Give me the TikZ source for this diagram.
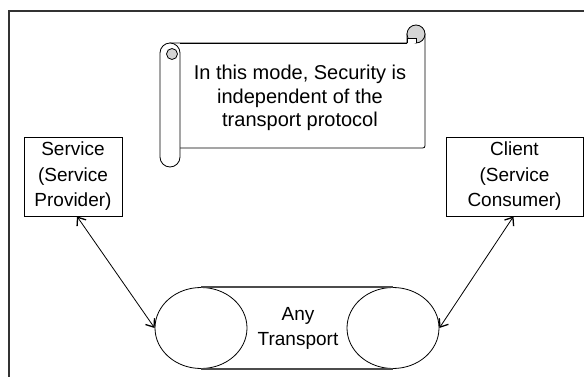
\documentclass[tikz,border=0pt]{standalone}
\usepackage{fontspec}
\setmainfont{Liberation Sans}
\usetikzlibrary{shapes.geometric,arrows.meta}
\definecolor{curlgray}{HTML}{D4D4D4}
\definecolor{framegray}{HTML}{333333}
\begin{document}
\begin{tikzpicture}[x=1pt,y=-1pt,
    box/.style={draw, line width=0.8pt, align=center, inner sep=0pt,
      font=\fontsize{19}{25.5}\selectfont},
    endcap/.style={draw, ellipse, line width=0.8pt, fill=white,
      minimum width=92pt, minimum height=81pt, inner sep=0pt},
    tube/.style={draw=black!70, line width=1.3pt},
    barb/.tip={Straight Barb[length=7pt,width=11pt,line width=1.3pt]},
    link/.style={line width=0.8pt, barb-barb}]
  \useasboundingbox (0,0) rectangle (584,377);

  % Outer frame, cut at the right and bottom
  \draw[framegray, line width=1.5pt] (9,377) -- (9,11) -- (584,11);

  % Scroll body, its left roll and the curl at the top right
  \def\scrollbody{(170,43) -- (407,43) -- (407,34) -- (425,34) -- (425,143)
    .. controls (425,148) .. (420,148) -- (170,148) -- cycle}
  \filldraw[fill=white, line width=0.8pt] \scrollbody;
  \filldraw[fill=white, line width=0.8pt, rounded corners=10pt] (160,43) rectangle (180,167);
  \filldraw[fill=curlgray, line width=0.8pt] (172,54) circle (5.5);
  \filldraw[fill=curlgray, line width=0.8pt] (416,34) circle (9);
  \filldraw[fill=white, line width=0.8pt] (407,43) -- (407,38) -- (416,38) -- (416,43);
  \draw[line width=0.8pt] (180,43) -- (407,43);
  \node[align=center, font=\fontsize{20}{23.5}\selectfont] (note) at (300,98)
    {In this mode, Security is\\independent of the\\transport protocol};

  % Service and client
  \node[box, minimum width=98pt, minimum height=79pt] (service) at (73,176.5)
    {Service\\(Service\\Provider)};
  \node[box, minimum width=137pt, minimum height=79pt] (client) at (514.5,176.5)
    {Client\\(Service\\Consumer)};

  % Transport tube
  \node[endcap] (lend) at (201,328) {};
  \node[endcap] (rend) at (393,328) {};
  \draw[tube] (lend.north) -- (rend.north);
  \draw[tube] (lend.south) -- (rend.south);
  \node[align=center, font=\fontsize{19}{25}\selectfont] (transport) at (298,328.5)
    {Any\\Transport};

  % Links
  \draw[link] ([xshift=4pt]service.south) -- (lend.west);
  \draw[link] ([xshift=-1pt]client.south) -- (rend.east);
\end{tikzpicture}
\end{document}
